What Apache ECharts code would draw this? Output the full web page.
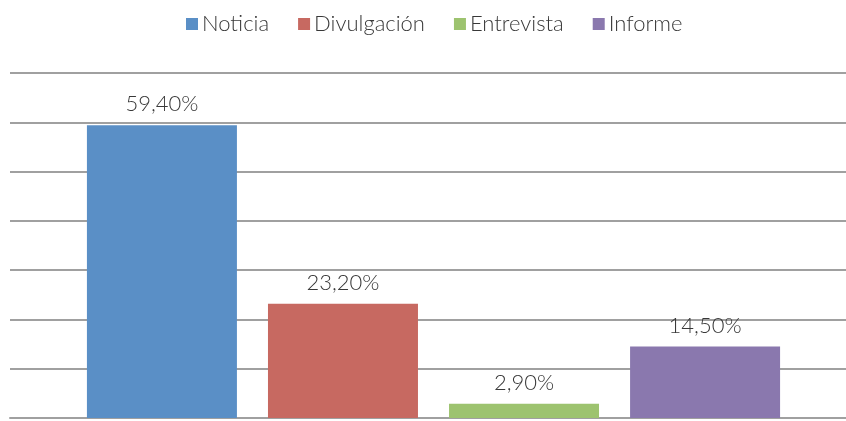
<!DOCTYPE html>
<html>
<head>
<meta charset="utf-8">
<script src="https://cdn.jsdelivr.net/npm/echarts@6/dist/echarts.min.js"></script>
<style>
  html, body { margin: 0; padding: 0; background: #fff; }
  #chartContainer { width: 846px; height: 421px; }
</style>
</head>
<body>
<div id="chartContainer"></div>
<script>
// Data
const seriesNames = ['Noticia', 'Divulgación', 'Entrevista', 'Informe'];
const seriesValues = [59.4, 23.2, 2.9, 14.5];
const seriesColors = ['#5a8fc6', '#c76961', '#9dc36f', '#8a78ae'];

const chart = echarts.init(document.getElementById('chartContainer'));

// Format as "59,40%"
function formatPercent(v) {
  return v.toFixed(2).replace('.', ',') + '%';
}

const series = seriesNames.map(function(name, i) {
  return {
    name: name,
    type: 'bar',
    xAxisIndex: 1,
    yAxisIndex: 1,
    data: [seriesValues[i]],
    barWidth: 150,
    barGap: '20.7%',
    itemStyle: { color: seriesColors[i] },
    label: {
      show: true,
      position: 'top',
      distance: 10,
      color: '#383838',
      fontFamily: 'Lato',
      fontWeight: 300,
      fontSize: 22,
      formatter: function(p) { return formatPercent(p.value); }
    }
  };
});

const options = {
  animation: false,
  textStyle: { fontFamily: 'Lato' },
  legend: {
    top: 8,
    left: 181,
    itemWidth: 12,
    itemHeight: 12,
    itemGap: 29,
    icon: 'rect',
    textStyle: { color: '#383838', fontSize: 22, fontFamily: 'Lato', fontWeight: 300, padding: [0, 0, 0, -1] },
    data: seriesNames
  },
  // grid 0 carries the gridlines, grid 1 places the bars
  grid: [
    { left: 10, right: 0, top: 73, bottom: 3 },
    { left: 21, right: 0, top: 73, bottom: 3 }
  ],
  xAxis: [
    {
      type: 'category',
      gridIndex: 0,
      data: [''],
      axisLine: { show: true, lineStyle: { color: '#a0a0a0', width: 2 } },
      axisTick: { show: false },
      axisLabel: { show: false }
    },
    {
      type: 'category',
      gridIndex: 1,
      data: [''],
      axisLine: { show: false },
      axisTick: { show: false },
      axisLabel: { show: false }
    }
  ],
  yAxis: [
    {
      type: 'value',
      gridIndex: 0,
      min: 0,
      max: 70,
      interval: 10,
      axisLabel: { show: false },
      axisLine: { show: false },
      axisTick: { show: false },
      splitLine: { lineStyle: { color: '#a0a0a0', width: 2 } }
    },
    {
      type: 'value',
      gridIndex: 1,
      min: 0,
      max: 70,
      interval: 10,
      show: false,
      splitLine: { show: false }
    }
  ],
  series: series
};

chart.setOption(options);
</script>
</body>
</html>
